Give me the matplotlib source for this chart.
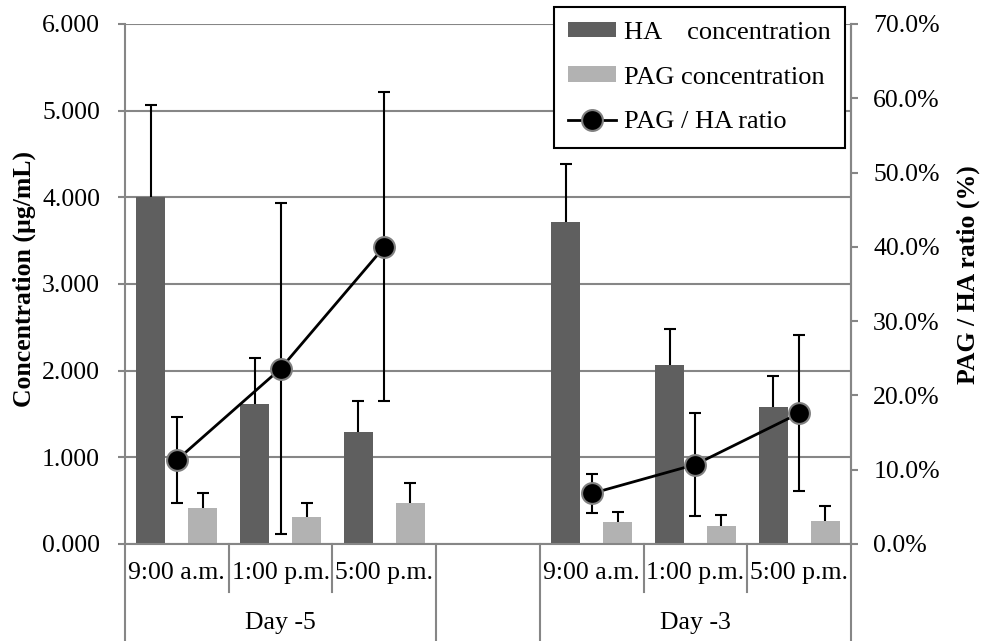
import numpy as np
import matplotlib
matplotlib.use('Agg')
import matplotlib.pyplot as plt
from matplotlib.lines import Line2D
from matplotlib.patches import Patch

plt.rcParams['font.family'] = ['Liberation Serif', 'DejaVu Serif']
plt.rcParams['font.size'] = 18.5

# data
times = ['9:00 a.m.', '1:00 p.m.', '5:00 p.m.', '', '9:00 a.m.', '1:00 p.m.', '5:00 p.m.']
days = ['Day -5', 'Day -3']
ha = [4.00, 1.62, 1.29, 3.71, 2.07, 1.58]
ha_err = [1.07, 0.53, 0.36, 0.68, 0.41, 0.36]
pag = [0.415, 0.31, 0.47, 0.255, 0.21, 0.27]
pag_err = [0.17, 0.16, 0.235, 0.12, 0.125, 0.165]
ratio = [11.3, 23.6, 40.0, 6.8, 10.7, 17.6]      # %
ratio_err = [5.8, 22.3, 20.8, 2.65, 6.9, 10.5]

slots = np.array([0, 1, 2, 4, 5, 6]) + 0.5
grid_c = '#868686'
ha_c = '#5f5f5f'
pag_c = '#b2b2b2'

fig = plt.figure(figsize=(9.84, 6.41), dpi=100)
ax = fig.add_axes([125/984, 97/641, 726/984, 520/641])
ax2 = ax.twinx()

# bars with upper error bars only
ax.bar(slots - 0.25, ha, 0.28, color=ha_c, zorder=2)
ax.bar(slots + 0.25, pag, 0.28, color=pag_c, zorder=2)
for xs, vals, errs in [(slots - 0.25, ha, ha_err), (slots + 0.25, pag, pag_err)]:
    eb = ax.errorbar(xs, vals, yerr=[np.zeros(6), errs], fmt='none',
                     ecolor='black', elinewidth=1.5, capsize=4.5, capthick=1.5, zorder=3)
    for cl in eb[1]:
        if np.allclose(cl.get_ydata(), vals):
            cl.set_visible(False)

ax.set_xlim(0, 7)
ax.set_ylim(0, 6)
ax.set_yticks(np.arange(0, 7, 1))
ax.set_yticklabels([f'{v:.3f}' for v in np.arange(0, 7, 1)])
ax.yaxis.grid(True, color=grid_c, linewidth=1.5, zorder=0)
ax.set_axisbelow(True)
ax.set_xticks([])
ax.spines['top'].set_visible(False)
for s in ['left', 'bottom', 'right']:
    ax.spines[s].set_color(grid_c)
    ax.spines[s].set_linewidth(1.5)
ax.tick_params(axis='y', color=grid_c, width=1.5, length=5, pad=13)

# ratio line
for part in [slice(0, 3), slice(3, 6)]:
    ax2.errorbar(slots[part], ratio[part], yerr=ratio_err[part], color='black', lw=2,
                 ecolor='black', elinewidth=1.5, capsize=4.5, capthick=1.5,
                 marker='o', markersize=15, markerfacecolor='black',
                 markeredgecolor='#808080', markeredgewidth=1.5, zorder=4)
ax2.set_ylim(0, 70)
ax2.set_yticks(np.arange(0, 71, 10))
ax2.set_yticklabels([f'{v:.1f}%' for v in np.arange(0, 71, 10)])
ax2.tick_params(axis='y', color=grid_c, width=1.5, length=5, pad=11)
for s in ['top', 'left', 'bottom']:
    ax2.spines[s].set_visible(False)
ax2.spines['right'].set_color(grid_c)
ax2.spines['right'].set_linewidth(1.5)

# axis titles
fig.text(24/984, 1 - 279/641, 'Concentration (µg/mL)', fontweight='bold',
         rotation=90, ha='center', va='center')
fig.text(968/984, 1 - 275/641, 'PAG / HA ratio (%)', fontweight='bold',
         rotation=90, ha='center', va='center')

# two-level category axis
tr = ax.get_xaxis_transform()
for i, t in enumerate(times):
    ax.text(i + 0.5, -29/520, t, transform=tr, ha='center', va='center')
ax.text(1.5, -79/520, days[0], transform=tr, ha='center', va='center')
ax.text(5.5, -79/520, days[1], transform=tr, ha='center', va='center')
for x in [1, 2, 5, 6]:
    ax.plot([x, x], [0, -48/520], transform=tr, color=grid_c, lw=1.5, clip_on=False)
for x in [0, 3, 4, 7]:
    ax.plot([x, x], [0, -97/520], transform=tr, color=grid_c, lw=1.5, clip_on=False)

# legend
handles = [Patch(facecolor=ha_c), Patch(facecolor=pag_c),
           Line2D([], [], color='black', lw=2, marker='o', markersize=15,
                  markerfacecolor='black', markeredgecolor='#808080', markeredgewidth=1.5)]
labels = ['HA    concentration', 'PAG concentration', 'PAG / HA ratio']
leg = fig.legend(handles, labels, loc='upper right', bbox_to_anchor=(845/984, 1 - 7/641),
                 frameon=True, fancybox=False, framealpha=1, edgecolor='black',
                 fontsize=19, handlelength=1.8, handleheight=0.55, handletextpad=0.3,
                 borderpad=0.55, labelspacing=0.85, borderaxespad=0)
leg.get_frame().set_linewidth(1.5)

fig.savefig('out.png', dpi=100)
